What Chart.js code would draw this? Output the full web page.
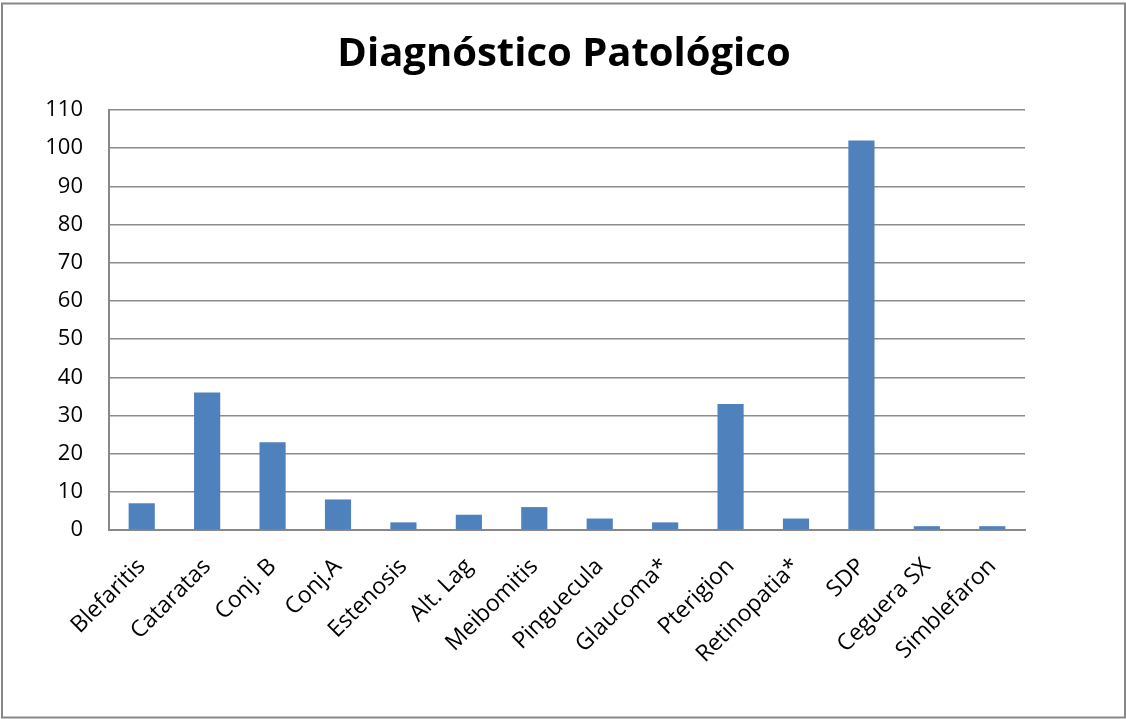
<!DOCTYPE html>
<html>
<head>
<meta charset="utf-8">
<script src="https://cdn.jsdelivr.net/npm/chart.js@4/dist/chart.umd.min.js"></script>
<style>
  html, body { margin: 0; padding: 0; background: #fff; }
  #wrap { width: 1126px; height: 719px; }
</style>
</head>
<body>
<div id="wrap"><canvas id="c" width="1126" height="719"></canvas></div>
<script>
// Diagnoses and patient counts
const categories = ["Blefaritis", "Cataratas", "Conj. B", "Conj.A", "Estenosis", "Alt. Lag",
  "Meibomitis", "Pinguecula", "Glaucoma*", "Pterigion", "Retinopatia*", "SDP", "Ceguera SX", "Simblefaron"];
const counts = [7, 36, 23, 8, 2, 4, 6, 3, 2, 33, 3, 102, 1, 1];
const yTicks = [0, 10, 20, 30, 40, 50, 60, 70, 80, 90, 100, 110];
const titleText = "Diagnóstico Patológico";

const FONT = "'Open Sans', 'Liberation Sans', sans-serif";

// Title centred on the full frame, plus the outer border around the chart
const framePlugin = {
  id: 'frame',
  afterDraw(chart) {
    const ctx = chart.ctx;
    ctx.save();
    ctx.fillStyle = '#000';
    ctx.font = "bold 40px " + FONT;
    ctx.textAlign = 'center';
    ctx.textBaseline = 'alphabetic';
    ctx.fillText(titleText, 564, 66);
    ctx.strokeStyle = '#888888';
    ctx.lineWidth = 2;
    ctx.strokeRect(2, 3.5, 1123, 714);
    ctx.restore();
  }
};

new Chart(document.getElementById('c'), {
  type: 'bar',
  data: {
    labels: categories,
    datasets: [{
      data: counts,
      backgroundColor: '#4F81BD',
      borderWidth: 0,
      barPercentage: 0.4,
      categoryPercentage: 1.0
    }]
  },
  options: {
    responsive: false,
    animation: false,
    layout: { padding: { left: 0, right: 101, top: 110, bottom: 0 } },
    plugins: {
      legend: { display: false },
      tooltip: { enabled: false },
      title: { display: false }
    },
    scales: {
      x: {
        grid: { display: false, drawTicks: false },
        border: { display: true, color: '#888888', width: 2 },
        ticks: {
          color: '#000',
          font: { family: FONT, size: 23 },
          minRotation: 45,
          maxRotation: 45,
          padding: 23,
          autoSkip: false
        },
        afterFit(scale) { scale.height = 189; }
      },
      y: {
        min: 0,
        max: 110,
        afterBuildTicks(scale) { scale.ticks = yTicks.map(v => ({ value: v })); },
        grid: { color: '#8c8c8c', lineWidth: 1.5, drawTicks: false },
        border: { display: true, color: '#888888', width: 2 },
        ticks: {
          color: '#000',
          font: { family: FONT, size: 22 },
          padding: 26
        },
        afterFit(scale) { scale.width = 109; }
      }
    }
  },
  plugins: [framePlugin]
});
</script>
</body>
</html>
